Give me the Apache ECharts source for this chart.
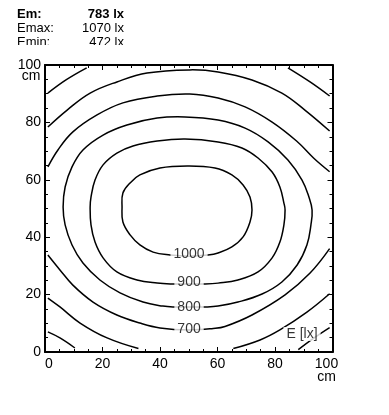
<!DOCTYPE html>
<html>
<head>
<meta charset="utf-8">
<script src="https://cdn.jsdelivr.net/npm/echarts@6/dist/echarts.min.js"></script>
<style>
html,body{margin:0;padding:0;background:#fff;}
#chart{width:389px;height:415px;}
</style>
</head>
<body>
<div id="chart"></div>
<script>
// ---- data (cm coordinates) ----
const xTicks = [0, 20, 40, 60, 80, 100];
const yTicks = [0, 20, 40, 60, 80, 100];
const axisUnit = 'cm';

const statLabels = ['Em:', 'Emax:', 'Emin:'];
const statValues = ['783 lx', '1070 lx', '472 lx'];

// closed iso-lines (first point repeated at the end)
const c1000 = [[49.5,64.8],[59.1,64.1],[65.0,61.7],[68.9,58.2],[71.3,54.0],[72.0,49.5],[71.3,45.3],[68.9,40.1],[65.0,36.6],[60.2,34.5],[56.7,33.8],[50.1,33.4],[43.5,33.8],[37.6,34.8],[33.0,37.3],[29.6,40.8],[27.1,45.3],[26.8,50.5],[27.1,55.4],[29.6,58.9],[33.0,61.7],[40.0,64.1],[49.5,64.8]];
const c900 = [[48.7,74.2],[60.2,73.2],[68.5,71.1],[74.1,67.6],[79.0,62.7],[81.7,57.5],[83.1,51.9],[83.5,49.5],[83.1,44.3],[81.7,38.3],[79.0,32.8],[74.1,27.9],[67.1,25.1],[60.2,24.0],[55.7,23.7],[50.1,23.7],[44.2,23.7],[39.0,24.0],[32.0,25.1],[25.0,27.9],[20.2,32.8],[17.4,38.3],[16.0,44.3],[15.7,50.5],[16.0,54.0],[17.4,59.9],[20.2,65.2],[25.0,69.3],[30.6,71.8],[39.0,73.5],[48.7,74.2]];
const c800 = [[48.7,81.9],[60.2,80.8],[69.6,78.0],[77.6,73.2],[84.5,66.9],[89.4,59.9],[91.8,54.0],[92.9,49.5],[92.5,44.3],[91.1,37.3],[87.7,30.3],[82.4,24.4],[75.5,20.2],[67.1,17.4],[60.2,16.0],[55.7,15.7],[50.1,15.7],[44.5,15.7],[41.0,16.0],[34.1,17.4],[26.1,20.6],[19.1,25.1],[13.2,31.0],[9.4,37.3],[7.0,44.3],[6.3,50.5],[7.0,57.5],[9.4,64.5],[13.2,70.4],[20.2,75.6],[28.5,79.1],[39.0,81.5],[48.7,81.9]];
// open iso-lines (leave the frame)
const c700Top = [[1.0,64.5],[4.5,70.4],[9.7,76.7],[18.1,82.6],[27.1,86.8],[39.0,89.2],[50.4,89.9],[60.2,88.5],[69.6,85.4],[79.0,80.1],[87.5,73.5],[93.5,67.5],[99.0,62.8]];
const c700Bot = [[1.0,33.8],[5.2,28.6],[9.7,23.3],[16.7,17.4],[25.0,12.9],[33.0,10.1],[40.0,8.4],[50.1,7.7],[58.5,8.2],[62.6,8.9],[72.0,12.9],[83.5,19.9],[92.2,27.5],[99.0,36.0]];
const c600Top = [[1.0,78.4],[7.7,84.3],[15.7,90.2],[25.0,94.1],[35.5,97.2],[50.4,98.3],[60.2,97.6],[72.0,94.8],[82.4,90.2],[90.4,84.3],[99.0,77.0]];
const c600BL = [[1.0,18.8],[5.2,15.7],[12.2,10.1],[21.6,4.9],[32.5,1.2]];
const c600BR = [[65.5,1.2],[74.8,4.2],[81.7,7.7],[91.1,13.9],[99.0,20.3]];
const c500TL = [[1.0,90.2],[7.3,94.8],[14.5,99.0]];
const c500TR = [[84.5,99.0],[92.2,94.1],[99.0,89.2]];
const c500BL = [[1.0,7.0],[5.2,4.9],[10.4,1.4]];
const c500BR = [[88.1,0.8],[93.6,4.9],[99.0,8.5]];

const closedLines = [c1000, c900, c800];
const openLines = [c700Top, c700Bot, c600Top, c600BL, c600BR, c500TL, c500TR, c500BL, c500BR];

const labelTexts = ['1000', '900', '800', '700', 'E [lx]'];
const labelPositions = [[50.1,34.1],[50.1,24.4],[50.1,15.5],[50.1,7.8],[89.4,6.3]];

// ---- chart ----
const FONT = '"Liberation Sans", Arial, Helvetica, sans-serif';
const chart = echarts.init(document.getElementById('chart'), null, {renderer: 'canvas'});

function baseAxis(extra) {
  return Object.assign({
    type: 'value', min: 0, max: 100, interval: 20,
    axisLine: {show: true, onZero: false, lineStyle: {color: '#000', width: 2}},
    axisTick: {show: true, inside: true, length: 5, lineStyle: {color: '#000', width: 1}},
    minorTick: {show: true, splitNumber: 4, length: 3, lineStyle: {color: '#000', width: 1}},
    splitLine: {show: false},
    minorSplitLine: {show: false},
    axisLabel: {show: false}
  }, extra);
}

function contourSeries(line, closed) {
  return {
    type: 'custom', coordinateSystem: 'cartesian2d', xAxisIndex: 0, yAxisIndex: 0,
    data: line, silent: true, z: 2, clip: false,
    encode: {x: 0, y: 1},
    renderItem: function (params, api) {
      if (params.dataIndex !== 0) return null;
      let pts = line.map(p => api.coord(p));
      if (closed) pts = pts.slice(0, -1);
      return {
        type: closed ? 'polygon' : 'polyline',
        shape: {points: pts, smooth: 0.4},
        style: {fill: closed ? 'none' : null, stroke: '#000', lineWidth: 1.5}
      };
    }
  };
}

const series = [];
closedLines.forEach(l => series.push(contourSeries(l, true)));
openLines.forEach(l => series.push(contourSeries(l, false)));

series.push({
  type: 'scatter', xAxisIndex: 0, yAxisIndex: 0,
  symbolSize: 0.1, itemStyle: {color: 'transparent'},
  data: labelPositions.map((p, i) => ({value: p, name: labelTexts[i]})),
  label: {
    show: true, position: 'inside', formatter: '{b}',
    color: '#000', fontSize: 14, fontFamily: FONT,
    backgroundColor: '#fff', padding: [0, 3, 0, 3]
  },
  silent: true, z: 5
});

const headerGraphics = [];
statLabels.forEach((t, i) => {
  const bold = i === 0;
  headerGraphics.push({
    type: 'text', left: 17, top: 8 + i * 14, z: 10,
    style: {text: t, font: (bold ? 'bold ' : '') + '13px ' + FONT, fill: '#000'}
  });
  headerGraphics.push({
    type: 'text', right: 389 - 124, top: 8 + i * 14, z: 10,
    style: {text: statValues[i], font: (bold ? 'bold ' : '') + '13px ' + FONT, fill: '#000', textAlign: 'right'}
  });
});
headerGraphics.push({
  type: 'rect', left: 10, top: 45, z: 20,
  shape: {width: 125, height: 6}, style: {fill: '#fff'}
});

chart.setOption({
  animation: false,
  backgroundColor: '#fff',
  grid: {left: 45, right: 56.5, top: 65, bottom: 63, containLabel: false},
  xAxis: [
    baseAxis({
      position: 'bottom',
      axisLabel: {
        show: true, margin: 6, color: '#000', fontSize: 14, fontFamily: FONT,
        alignMinLabel: 'left', lineHeight: 13,
        customValues: xTicks,
        formatter: v => v === 100 ? '{m|' + v + '}\n{m|' + axisUnit + '}' : String(v),
        rich: {m: {fontSize: 14, fontFamily: FONT, color: '#000', lineHeight: 13, padding: [0, 12, 0, 0]}}
      }
    }),
    baseAxis({position: 'top'})
  ],
  yAxis: [
    baseAxis({
      position: 'left',
      name: axisUnit, nameLocation: 'end', nameGap: -18, nameMoveOverlap: false,
      nameTextStyle: {color: '#000', fontSize: 14, fontFamily: FONT, padding: [0, 28, 0, 0], align: 'center', verticalAlign: 'bottom'},
      axisLabel: {show: true, margin: 4, color: '#000', fontSize: 14, fontFamily: FONT, customValues: yTicks}
    }),
    baseAxis({position: 'right'})
  ],
  graphic: headerGraphics,
  series: series
});
</script>
</body>
</html>
